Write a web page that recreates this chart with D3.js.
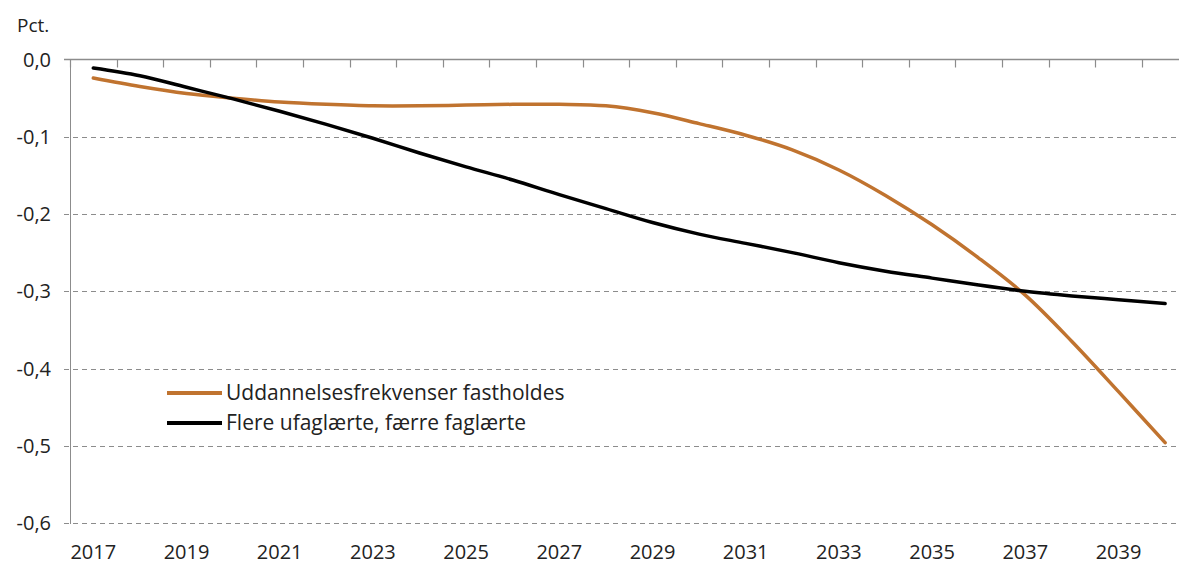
<!DOCTYPE html>
<html>
<head>
<meta charset="utf-8">
<script src="https://cdn.jsdelivr.net/npm/d3@7"></script>
<style>
  body { margin: 0; background: #fff; }
  svg text { font-family: "Open Sans", sans-serif; fill: #222; }
</style>
</head>
<body>
<div id="chart"></div>
<script>
var years = d3.range(2017, 2041);
var tickYears = [2017, 2019, 2021, 2023, 2025, 2027, 2029, 2031, 2033, 2035, 2037, 2039];
var yTicks = [0, -0.1, -0.2, -0.3, -0.4, -0.5, -0.6];

var seriesNames = ["Uddannelsesfrekvenser fastholdes", "Flere ufaglærte, færre faglærte"];
var seriesColors = ["#c0732f", "#000000"];

var fastholdes = [-0.024, -0.035, -0.044, -0.050, -0.055, -0.058, -0.060, -0.060, -0.059, -0.058,
  -0.058, -0.060, -0.069, -0.083, -0.098, -0.117, -0.143, -0.176, -0.214, -0.257,
  -0.305, -0.365, -0.430, -0.496];
var ufaglaerte = [-0.011, -0.021, -0.036, -0.051, -0.067, -0.084, -0.102, -0.121, -0.139, -0.156,
  -0.175, -0.193, -0.211, -0.226, -0.238, -0.250, -0.263, -0.274, -0.283, -0.292,
  -0.300, -0.306, -0.311, -0.316];

var width = 1179, height = 565;
var plot = { left: 70, top: 59.5, right: 1188.4, bottom: 523 };

var svg = d3.select("#chart").append("svg")
  .attr("width", width)
  .attr("height", height);

var x = d3.scaleBand()
  .domain(years)
  .range([plot.left, plot.right])
  .paddingInner(0)
  .paddingOuter(0);

var y = d3.scaleLinear()
  .domain([-0.6, 0])
  .range([plot.bottom, plot.top]);

var fmt = function(d) {
  return d3.format(".1f")(d).replace("\u2212", "-").replace(".", ",");
};

// gridlines (dashed)
svg.append("g")
  .selectAll("line")
  .data(yTicks.filter(function(d) { return d !== 0; }))
  .enter()
  .append("line")
  .attr("x1", plot.left - 6)
  .attr("x2", width)
  .attr("y1", function(d) { return Math.round(y(d)) + 0.5; })
  .attr("y2", function(d) { return Math.round(y(d)) + 0.5; })
  .attr("stroke", "#8c8c8c")
  .attr("stroke-width", 1)
  .attr("stroke-dasharray", "5,4");

// y axis line and labels
svg.append("line")
  .attr("x1", plot.left + 0.5).attr("x2", plot.left + 0.5)
  .attr("y1", y(0)).attr("y2", Math.round(y(-0.6)) + 1)
  .attr("stroke", "#8c8c8c");

svg.append("g")
  .selectAll("text")
  .data(yTicks)
  .enter()
  .append("text")
  .attr("x", 51)
  .attr("y", function(d) { return y(d); })
  .attr("dy", "0.35em")
  .attr("text-anchor", "end")
  .style("font-size", "20px")
  .text(fmt);

svg.append("text")
  .attr("x", 17)
  .attr("y", 32)
  .style("font-size", "19px")
  .text("Pct.");

// x axis at zero with ticks downward
svg.append("line")
  .attr("x1", plot.left - 6).attr("x2", width)
  .attr("y1", y(0)).attr("y2", y(0))
  .attr("stroke", "#8c8c8c")
  .attr("stroke-width", 1.5);

svg.append("g")
  .selectAll("line")
  .data(years)
  .enter()
  .append("line")
  .attr("x1", function(d) { return Math.round(x(d)) + 0.5; })
  .attr("x2", function(d) { return Math.round(x(d)) + 0.5; })
  .attr("y1", y(0))
  .attr("y2", y(0) + 8)
  .attr("stroke", "#8c8c8c")
  .attr("stroke-width", 1.2);

svg.append("g")
  .selectAll("text")
  .data(tickYears)
  .enter()
  .append("text")
  .attr("x", function(d) { return x(d) + x.bandwidth() / 2; })
  .attr("y", 552)
  .attr("dy", "0.35em")
  .attr("text-anchor", "middle")
  .style("font-size", "20px")
  .text(function(d) { return d; });

// lines
var line = d3.line()
  .x(function(d) { return x(d.year) + x.bandwidth() / 2; })
  .y(function(d) { return y(d.value); })
  .curve(d3.curveCatmullRom.alpha(0.5));

var series = [fastholdes, ufaglaerte].map(function(vals, i) {
  return {
    name: seriesNames[i],
    color: seriesColors[i],
    values: years.map(function(yr, j) { return { year: yr, value: vals[j] }; })
  };
});

svg.selectAll(".series")
  .data(series)
  .enter()
  .append("path")
  .attr("class", "series")
  .attr("fill", "none")
  .attr("stroke", function(d) { return d.color; })
  .attr("stroke-width", 3.5)
  .attr("stroke-linecap", "round")
  .attr("stroke-linejoin", "round")
  .attr("d", function(d) { return line(d.values); });

// legend
var legend = svg.selectAll(".legend")
  .data(series)
  .enter()
  .append("g")
  .attr("class", "legend")
  .attr("transform", function(d, i) {
    return "translate(167," + (393 + i * 30) + ")";
  });

legend.append("line")
  .attr("x1", 0).attr("x2", 55)
  .attr("stroke", function(d) { return d.color; })
  .attr("stroke-width", 4);

legend.append("text")
  .attr("x", 59)
  .attr("dy", "0.35em")
  .style("font-size", "21px")
  .text(function(d) { return d.name; });
</script>
</body>
</html>
